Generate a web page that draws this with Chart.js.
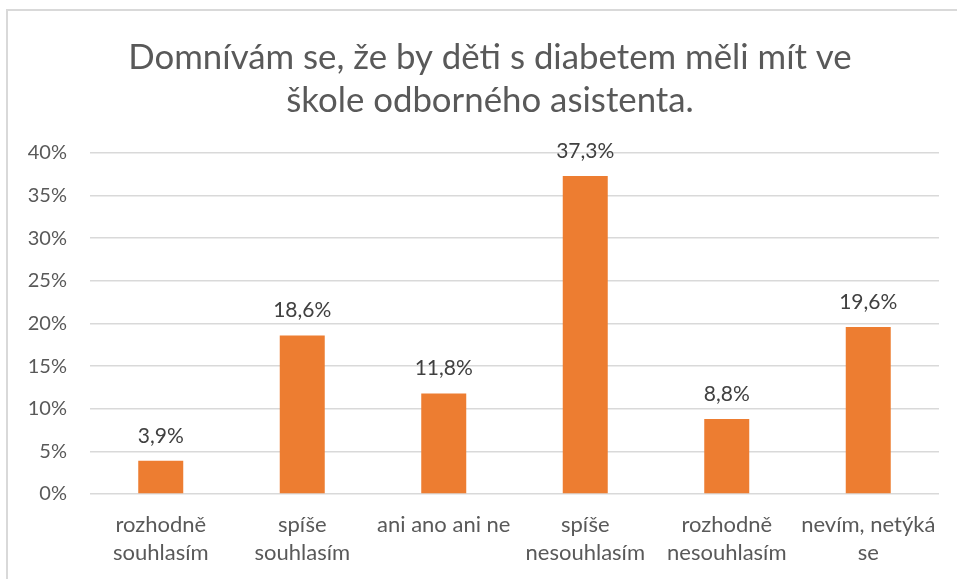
<!DOCTYPE html>
<html>
<head>
<meta charset="utf-8">
<script src="https://cdn.jsdelivr.net/npm/chart.js@4"></script>
<style>
  html, body { margin: 0; padding: 0; background: #fff; overflow: hidden; }
  .frame {
    position: absolute; left: 6px; top: 9px;
    width: 960px; height: 600px;
    border: 2px solid #d9d9d9; box-sizing: border-box;
  }
  .box { position: absolute; left: 8px; top: 11px; width: 949px; height: 568px; }
</style>
</head>
<body>
<div class="frame"></div>
<div class="box"><canvas id="chart"></canvas></div>
<script>
// data
const categories = [
  ['rozhodně', 'souhlasím'],
  ['spíše', 'souhlasím'],
  'ani ano ani ne',
  ['spíše', 'nesouhlasím'],
  ['rozhodně', 'nesouhlasím'],
  ['nevím, netýká', 'se'],
]
const values = [3.9, 18.6, 11.8, 37.3, 8.8, 19.6]
const titleLines = ['Domnívám se, že by děti s diabetem měli mít ve', 'škole odborného asistenta.']
const fontFamily = "Lato, 'Open Sans', sans-serif"

const fmt = (v) => v.toFixed(1).replace('.', ',') + '%'

// data labels above bars
const barLabels = {
  id: 'barLabels',
  afterLayout(chart) {
    // title is centred over the whole frame, not the plot
    chart.titleBlock.left += 33
  },
  afterDatasetsDraw(chart) {
    const ctx = chart.ctx
    const meta = chart.getDatasetMeta(0)
    ctx.save()
    ctx.font = `21px ${fontFamily}`
    ctx.fillStyle = '#404040'
    ctx.textAlign = 'center'
    ctx.textBaseline = 'middle'
    meta.data.forEach((bar, i) => {
      ctx.fillText(fmt(values[i]), bar.x, bar.y - 25)
    })
    ctx.restore()
  }
}

new Chart(document.getElementById('chart'), {
  type: 'bar',
  data: {
    labels: categories,
    datasets: [{
      data: values,
      backgroundColor: '#ED7D31',
      barPercentage: 0.318,
      categoryPercentage: 1,
    }]
  },
  options: {
    responsive: true,
    maintainAspectRatio: false,
    animation: false,
    layout: { padding: { left: 0, right: 18, top: 0, bottom: 0 } },
    plugins: {
      legend: { display: false },
      tooltip: { enabled: false },
      title: {
        display: true,
        text: titleLines,
        color: '#595959',
        font: { family: fontFamily, size: 34.8, weight: 'normal', lineHeight: 1.235 },
        padding: { top: 25, bottom: 31 },
      },
    },
    scales: {
      x: {
        grid: { display: false },
        border: { display: false },
        ticks: {
          color: '#595959',
          font: { family: fontFamily, size: 22, lineHeight: 1.27 },
          padding: 9,
          maxRotation: 0,
          autoSkip: false,
        },
        afterFit: (s) => { s.height = 85 },
      },
      y: {
        min: 0,
        max: 40,
        grid: { color: '#d9d9d9', lineWidth: 1.5, drawTicks: false },
        border: { display: false },
        ticks: {
          stepSize: 5,
          color: '#595959',
          font: { family: fontFamily, size: 20 },
          padding: 23,
          callback: (v) => v + '%',
        },
        afterFit: (s) => { s.width = 82 },
      },
    },
  },
  plugins: [barLabels],
})
</script>
</body>
</html>
